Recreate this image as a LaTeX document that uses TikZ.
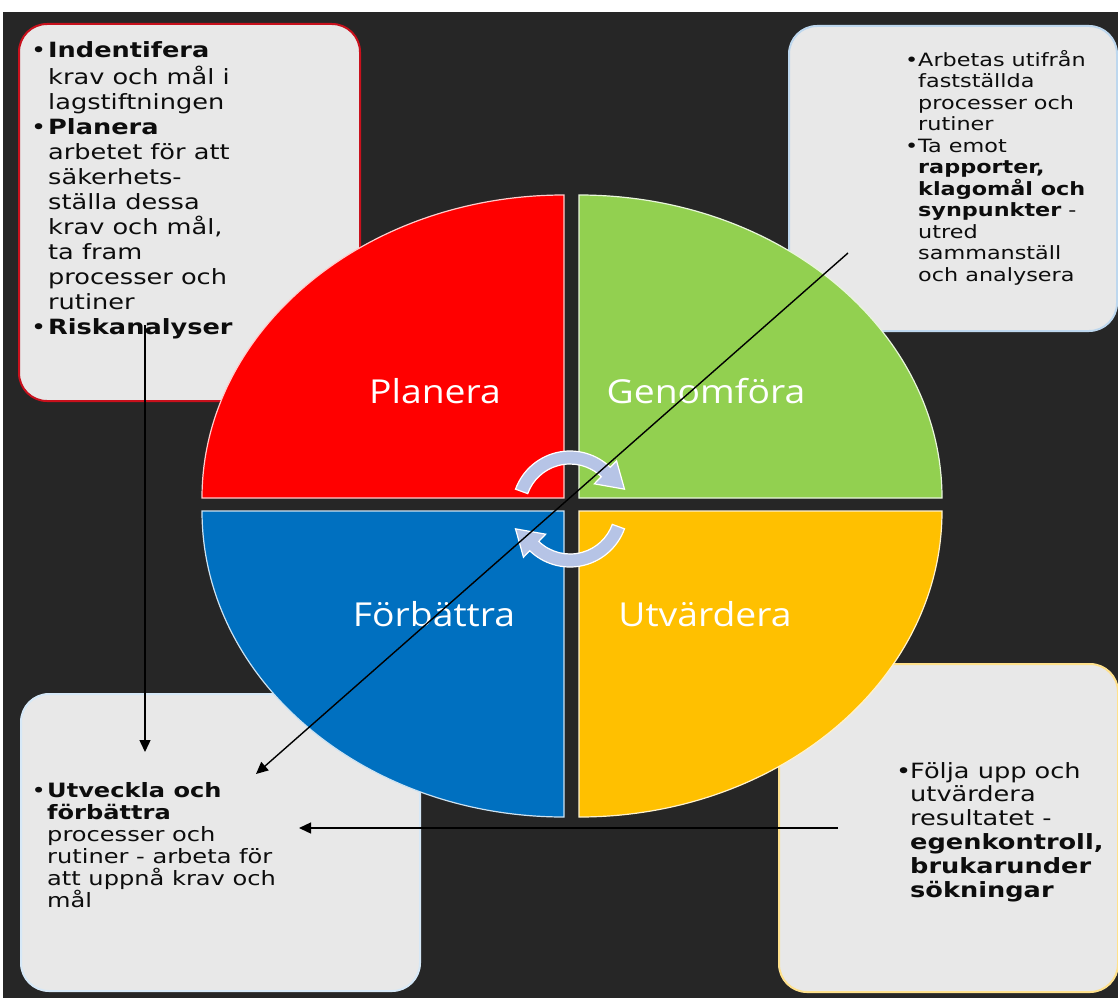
\documentclass[tikz,border=0pt]{standalone}
\usepackage{fontspec}
\usetikzlibrary{arrows.meta,calc}
\newfontfamily\boxfont[FakeStretch=1.22]{DejaVu Sans}
\newfontfamily\labelfont[FakeStretch=1.13]{Open Sans}
\definecolor{bgdark}{RGB}{38,38,38}
\definecolor{boxgray}{RGB}{232,232,232}
\definecolor{qred}{RGB}{255,0,0}
\definecolor{qgreen}{RGB}{146,208,80}
\definecolor{qblue}{RGB}{0,112,192}
\definecolor{qyellow}{RGB}{255,192,0}
\definecolor{cyclecol}{RGB}{182,196,230}
\definecolor{edgered}{RGB}{200,16,28}
\definecolor{edgeblue}{RGB}{189,215,238}
\definecolor{edgepale}{RGB}{214,232,247}
\definecolor{edgeyellow}{RGB}{255,225,140}
\newcommand\bul[1]{\makebox[#1][l]{•}}
\tikzset{
  infobox/.style={anchor=north west, fill=boxgray, line width=2pt,
    rounded corners=28pt, inner sep=0pt},
  infotext/.style={anchor=north west, inner sep=0pt, align=left, text=black!95},
  quadrant/.style={draw=white!80!#1, fill=#1, line width=1.2pt},
  qlabel/.style={anchor=base, text=white, inner sep=0pt,
    font=\labelfont\fontsize{33}{38}\selectfont},
  conn/.style={draw=black, line width=1.4pt, -{Triangle[length=12pt,width=11pt]}},
  cyclearrow/.style={fill=cyclecol, draw=white, line width=1.2pt}
}
\begin{document}
\begin{tikzpicture}[x=1pt,y=-1pt]
\useasboundingbox (0,0) rectangle (1118,998);
\fill[bgdark] (3,12) rectangle (1118,998);

% corner boxes
\node[infobox, draw=edgered, minimum width=341pt, minimum height=377pt] (planbox) at (18,23) {};
\node[infobox, draw=edgeblue, minimum width=328pt, minimum height=305pt] (dobox) at (788,25) {};
\node[infobox, draw=edgepale, minimum width=399pt, minimum height=297pt] (actbox) at (20,693) {};
\node[infobox, draw=edgeyellow, minimum width=339pt, minimum height=328pt] (checkbox) at (778,663) {};

% texts of the boxes
\node[infotext, font=\boxfont\fontsize{21}{25}\selectfont] (plantext) at (31,39.5)
 {\strut\bul{17pt}\textbf{Indentifera}\\
  \hspace*{17pt}krav och mål i\\
  \hspace*{17pt}lagstiftningen\\
  \bul{17pt}\textbf{Planera}\\
  \hspace*{17pt}arbetet för att\\
  \hspace*{17pt}säkerhets-\\
  \hspace*{17pt}ställa dessa\\
  \hspace*{17pt}krav och mål,\\
  \hspace*{17pt}ta fram\\
  \hspace*{17pt}processer och\\
  \hspace*{17pt}rutiner\\
  \bul{17pt}\textbf{Riskanalyser}};

\node[infotext, font=\boxfont\fontsize{18.3}{21.5}\selectfont] (dotext) at (905,50)
 {\strut\bul{13pt}Arbetas utifrån\\
  \hspace*{13pt}fastställda\\
  \hspace*{13pt}processer och\\
  \hspace*{13pt}rutiner\\
  \bul{13pt}Ta emot\\
  \hspace*{13pt}\textbf{rapporter,}\\
  \hspace*{13pt}\textbf{klagomål och}\\
  \hspace*{13pt}\textbf{synpunkter} -\\
  \hspace*{13pt}utred\\
  \hspace*{13pt}sammanställ\\
  \hspace*{13pt}och analysera};

\node[infotext, font=\boxfont\fontsize{19.75}{21.8}\selectfont] (acttext) at (31.5,781.7)
 {\strut\bul{15.5pt}\textbf{Utveckla och}\\
  \hspace*{15.5pt}\textbf{förbättra}\\
  \hspace*{15.5pt}processer och\\
  \hspace*{15.5pt}rutiner - arbeta för\\
  \hspace*{15.5pt}att uppnå krav och\\
  \hspace*{15.5pt}mål};

\node[infotext, font=\boxfont\fontsize{21}{23.8}\selectfont] (checktext) at (896,761.3)
 {\strut\bul{14pt}Följa upp och\\
  \hspace*{14pt}utvärdera\\
  \hspace*{14pt}resultatet -\\
  \hspace*{14pt}\textbf{egenkontroll,}\\
  \hspace*{14pt}\textbf{brukarunder}\\
  \hspace*{14pt}\textbf{sökningar}};

% the four quarters of the cycle
\path[quadrant=qred]    (564,498) -- (202,498) arc[start angle=180, end angle=270, x radius=362, y radius=303] -- cycle;
\path[quadrant=qgreen]  (579,498) -- (942,498) arc[start angle=0, end angle=-90, x radius=363, y radius=303] -- cycle;
\path[quadrant=qblue]   (564,511) -- (202,511) arc[start angle=180, end angle=90, x radius=362, y radius=306] -- cycle;
\path[quadrant=qyellow] (579,511) -- (942,511) arc[start angle=0, end angle=90, x radius=363, y radius=306] -- cycle;

\node[qlabel] (plan)  at (435,403) {Planera};
\node[qlabel] (do)    at (706,403) {Genomföra};
\node[qlabel] (act)   at (434,626) {Förbättra};
\node[qlabel] (check) at (705,626) {Utvärdera};

% circular arrows in the middle
\coordinate (hub) at (570,509);
\path[cyclearrow] ($(hub)+(200:58)$) arc[start angle=200, end angle=314, radius=58]
  -- ($(hub)+(314:67)$) -- ($(hub)+(340:58)$) -- ($(hub)+(314:35)$) -- ($(hub)+(314:45)$)
  arc[start angle=314, end angle=200, radius=45] -- cycle;
\path[cyclearrow] ($(hub)+(20:58)$) arc[start angle=20, end angle=134, radius=58]
  -- ($(hub)+(134:67)$) -- ($(hub)+(160:58)$) -- ($(hub)+(134:35)$) -- ($(hub)+(134:45)$)
  arc[start angle=134, end angle=20, radius=45] -- cycle;

% connectors
\coordinate (riskfoot) at (145,325);
\coordinate (riskend)  at (145,752);
\coordinate (dofoot)   at (848,253);
\coordinate (doend)    at (256,774);
\coordinate (checkfoot) at (838,828);
\coordinate (checkend)  at (299,828);
\draw[conn] (riskfoot) -- (riskend);
\draw[conn] (dofoot) -- (doend);
\draw[conn] (checkfoot) -- (checkend);
\end{tikzpicture}
\end{document}
